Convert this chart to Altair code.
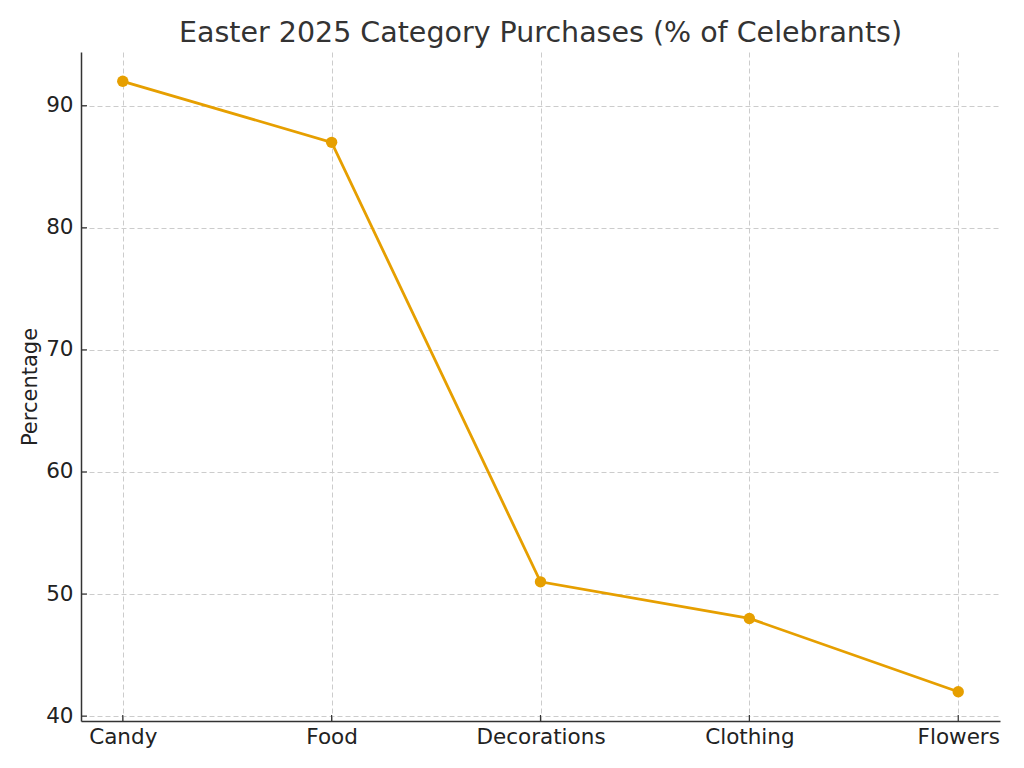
import altair as alt
import pandas as pd

categories = ["Candy", "Food", "Decorations", "Clothing", "Flowers"]
percentages = [92, 87, 51, 48, 42]
y_ticks = [40, 50, 60, 70, 80, 90]

W, H = 919, 669
FONT = "DejaVu Sans"
LINE_COLOR = "#E69F00"

df = pd.DataFrame({"Category": categories, "Percentage": percentages})
ticks_df = pd.DataFrame({"v": y_ticks})
cat_df = pd.DataFrame({"Category": categories})

x_scale = alt.Scale(type="point", domain=categories, padding=0.2)
y_scale = alt.Scale(domain=[39.6, 94.4], nice=False, zero=False)

x_enc = alt.X("Category:N", scale=x_scale, sort=categories,
              axis=alt.Axis(title=None, labelAngle=0, labelFontSize=21.5, labelFont=FONT,
                            labelColor="#222222", labelPadding=5, tickSize=0,
                            domainColor="#333333", domainWidth=1.5,
                            grid=True, gridColor="#cccccc", gridDash=[5, 3], gridWidth=1))
y_enc = alt.Y("Percentage:Q", scale=y_scale,
              axis=alt.Axis(title="Percentage", values=y_ticks, labelFontSize=21.5, labelFont=FONT,
                            labelColor="#222222", labelPadding=8, tickSize=0,
                            titleFontSize=21, titleFont=FONT, titleFontWeight="normal",
                            titleColor="#222222", titlePadding=5,
                            domainColor="#333333", domainWidth=1.5,
                            grid=True, gridColor="#cccccc", gridDash=[5, 3], gridWidth=1))

line = alt.Chart(df).mark_line(color=LINE_COLOR, strokeWidth=2.8).encode(x=x_enc, y=y_enc)
points = alt.Chart(df).mark_point(filled=True, color=LINE_COLOR, size=130, opacity=1).encode(
    x=alt.X("Category:N", scale=x_scale, sort=categories),
    y=alt.Y("Percentage:Q", scale=y_scale))

ytick_marks = alt.Chart(ticks_df).mark_rule(color="#333333", strokeWidth=1.2).encode(
    y=alt.Y("v:Q", scale=y_scale), x=alt.value(0), x2=alt.value(6))
xtick_marks = alt.Chart(cat_df).mark_rule(color="#333333", strokeWidth=1.2).encode(
    x=alt.X("Category:N", scale=x_scale, sort=categories), y=alt.value(H), y2=alt.value(H - 6))

chart = alt.layer(line, points, ytick_marks, xtick_marks).properties(
    width=W, height=H,
    title=alt.TitleParams("Easter 2025 Category Purchases (% of Celebrants)", font=FONT,
                          fontSize=28.5, fontWeight="normal", color="#333333", anchor="middle",
                          offset=5),
    autosize=alt.AutoSizeParams(type="none"),
    padding={"left": 81, "top": 52, "right": 24, "bottom": 47},
).configure(background="white").configure_view(stroke=None)

chart.save("out.html", embed_options={"renderer": "svg", "actions": False})
